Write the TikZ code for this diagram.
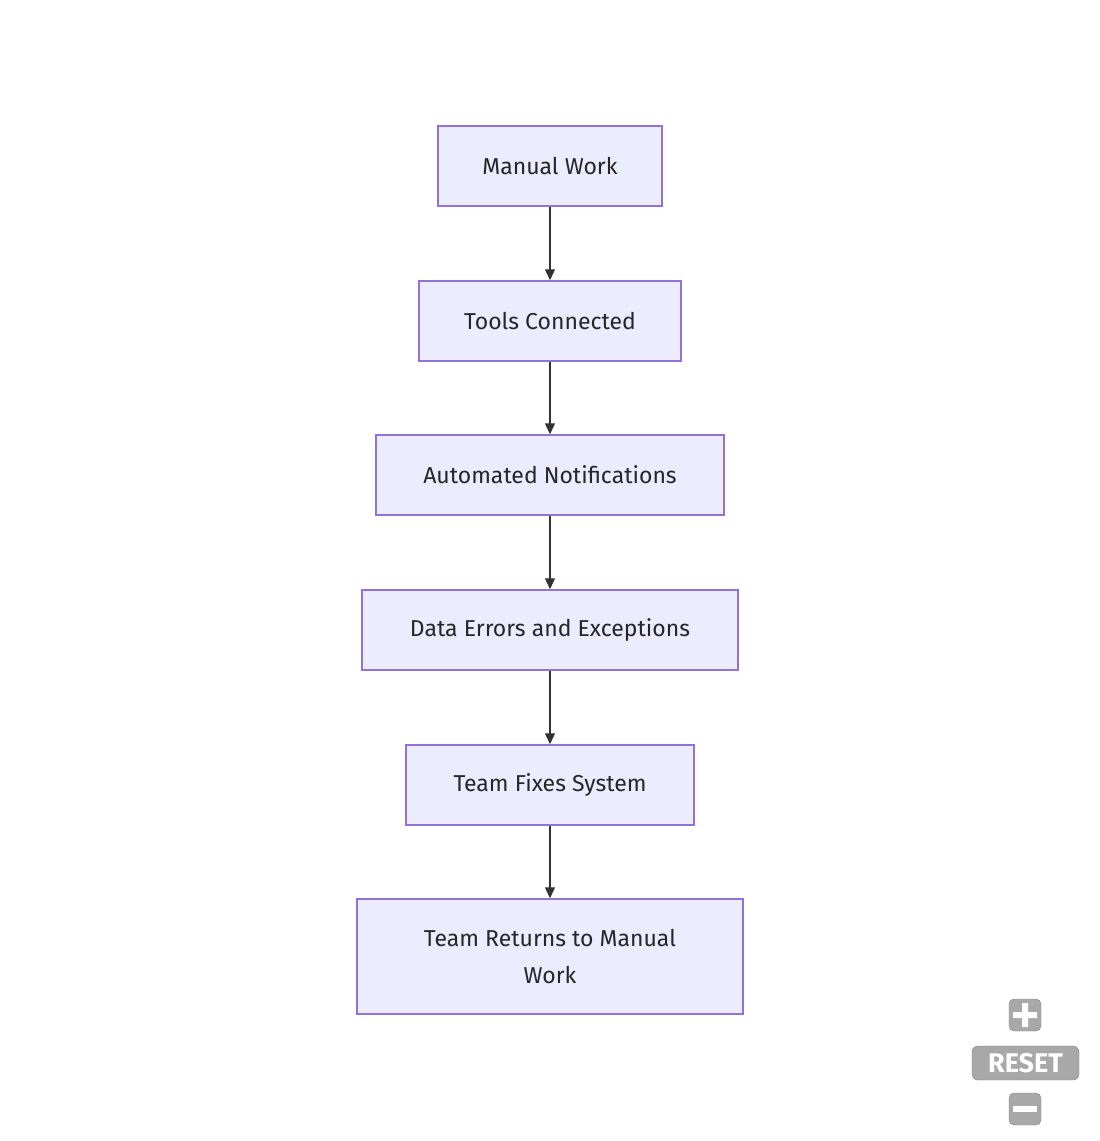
\documentclass[tikz,border=0pt]{standalone}
\usepackage{fontspec}
\setmainfont{Fira Sans}
\usetikzlibrary{arrows.meta}
\definecolor{nfill}{HTML}{ECECFF}
\definecolor{nline}{HTML}{9370DB}
\definecolor{btn}{HTML}{A8A8A8}
\begin{document}
\begin{tikzpicture}[x=1pt,y=-1pt,
  box/.style={draw=nline,fill=nfill,line width=1.5pt,inner sep=0pt,font=\fontsize{23}{36}\selectfont,text=black!85,align=center},
  arr/.style={draw=black!80,line width=1.3pt,-{Triangle[length=11pt,width=10pt]}}]
\useasboundingbox (0,0) rectangle (1100,1141);
\node[box,minimum width=224pt,minimum height=80pt] (a) at (550,166) {Manual Work};
\node[box,minimum width=262pt,minimum height=80pt] (b) at (550,321) {Tools Connected};
\node[box,minimum width=348pt,minimum height=80pt] (c) at (550,475) {Automated Notifications};
\node[box,minimum width=376pt,minimum height=80pt] (d) at (550,630) {Data Errors and Exceptions};
\node[box,minimum width=288pt,minimum height=80pt] (e) at (550,785) {Team Fixes System};
\node[box,minimum width=386pt,minimum height=115pt] (f) at (550,956.5) {Team Returns to Manual\\Work};
\draw[arr] (a) -- (b);
\draw[arr] (b) -- (c);
\draw[arr] (c) -- (d);
\draw[arr] (d) -- (e);
\draw[arr] (e) -- (f);
\node[fill=btn,draw=btn!80!black,rounded corners=5pt,minimum width=32pt,minimum height=32pt,inner sep=0pt] (plus) at (1025,1015) {};
\fill[white] (1013,1012) rectangle (1037,1018) (1022,1003) rectangle (1028,1027);
\node[fill=btn,draw=btn!80!black,rounded corners=6pt,minimum width=107pt,minimum height=34pt,inner sep=0pt,text=white,font=\fontsize{27}{27}\selectfont\bfseries] (reset) at (1025.5,1063) {RESET};
\node[fill=btn,draw=btn!80!black,rounded corners=5pt,minimum width=32pt,minimum height=32pt,inner sep=0pt] (minus) at (1025,1109) {};
\fill[white] (1013,1106) rectangle (1037,1112);
\end{tikzpicture}
\end{document}
